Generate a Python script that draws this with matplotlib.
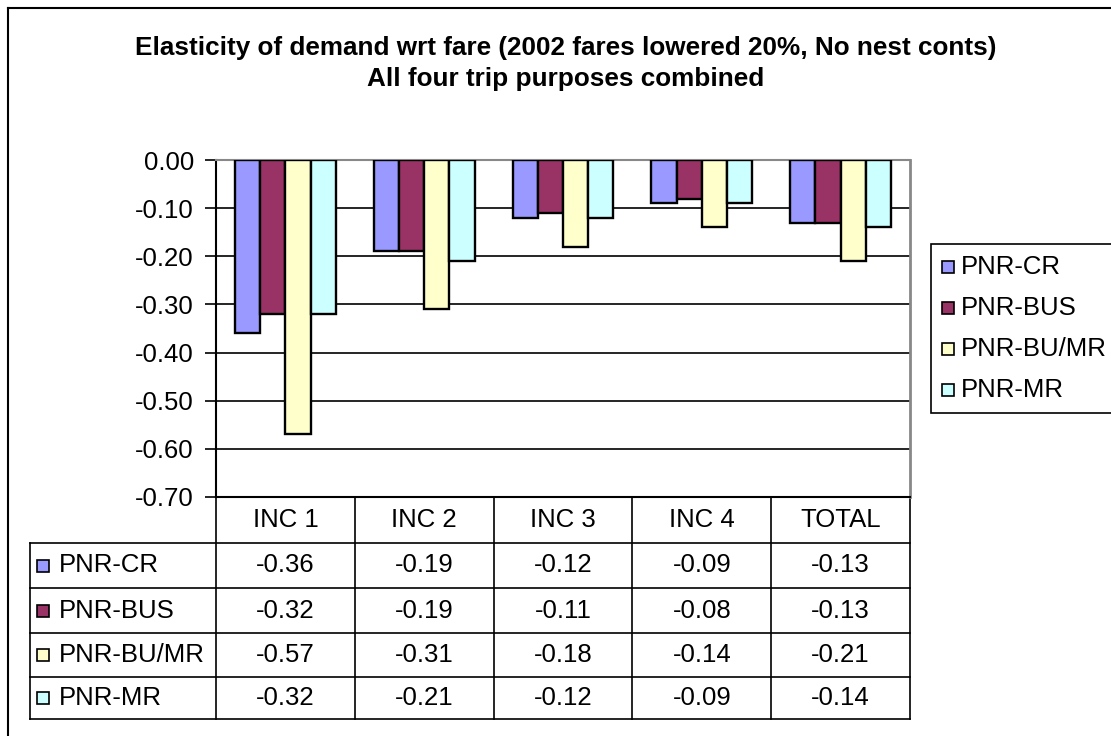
import numpy as np
import matplotlib
matplotlib.use("Agg")
import matplotlib.pyplot as plt
from matplotlib.patches import Rectangle

plt.rcParams['font.family'] = ['Liberation Sans', 'DejaVu Sans']

categories = ['INC 1', 'INC 2', 'INC 3', 'INC 4', 'TOTAL']
series = ['PNR-CR', 'PNR-BUS', 'PNR-BU/MR', 'PNR-MR']
pnr_cr = [-0.36, -0.19, -0.12, -0.09, -0.13]
pnr_bus = [-0.32, -0.19, -0.11, -0.08, -0.13]
pnr_bu_mr = [-0.57, -0.31, -0.18, -0.14, -0.21]
pnr_mr = [-0.32, -0.21, -0.12, -0.09, -0.14]
colors = ['#9999FF', '#993366', '#FFFFCC', '#CCFFFF']

title_1 = 'Elasticity of demand wrt fare (2002 fares lowered 20%, No nest conts)'
title_2 = 'All four trip purposes combined'

FS = 18.5
W, H = 1111, 736
fig = plt.figure(figsize=(W / 100, H / 100), dpi=100)

# pixel-space overlay for border, title, legend and data table
ov = fig.add_axes([0, 0, 1, 1])
ov.set_xlim(0, W)
ov.set_ylim(H, 0)
ov.axis('off')

# plot area in pixels
L, R, T, B = 216, 910, 160, 497
ax = fig.add_axes([L / W, 1 - B / H, (R - L) / W, (B - T) / H])
ax.set_zorder(2)

values = [pnr_cr, pnr_bus, pnr_bu_mr, pnr_mr]
n = len(categories)
x = np.arange(n)
bw = 1 / 5.5
for i, (vals, c) in enumerate(zip(values, colors)):
    ax.bar(x + (i - 1.5) * bw, vals, bw, color=c, edgecolor='black',
           linewidth=1.7, zorder=3)

ticks = np.round(np.arange(-0.7, 0.001, 0.1), 2)
ax.set_xlim(-0.5, n - 0.5)
ax.set_ylim(-0.70, 0.0)
ax.set_yticks(ticks)
ax.set_yticklabels([f'{abs(v):.2f}' if v == 0 else f'{v:.2f}' for v in ticks])
ax.yaxis.grid(True, color='black', linewidth=1.2, zorder=0)
ax.set_xticks([])
ax.tick_params(axis='y', length=8, width=1.2, labelsize=FS, pad=8)
for s in ['left', 'bottom']:
    ax.spines[s].set_linewidth(1.5)
ax.spines['top'].set_color('#888888')
ax.spines['right'].set_color('#888888')
ax.spines['top'].set_linewidth(1.5)
ax.spines['right'].set_linewidth(2)

# outer chart border
ov.plot([8, 8], [H + 5, 8], color='black', lw=1.5)
ov.plot([8, W + 5], [8, 8], color='black', lw=1.5)

ov.text(566, 48, title_1, ha='center', va='center', fontsize=18.8,
        fontweight='bold')
ov.text(566, 79, title_2, ha='center', va='center', fontsize=18.8,
        fontweight='bold')

# legend
ov.add_patch(Rectangle((931, 244), 200, 169, facecolor='white',
                       edgecolor='black', lw=1.2))
for i, (name, c) in enumerate(zip(series, colors)):
    yc = 267 + i * 41
    ov.add_patch(Rectangle((942, yc - 6), 12, 12, facecolor=c,
                           edgecolor='black', lw=1.2))
    ov.text(961, yc, name, ha='left', va='center', fontsize=FS)

# data table under the axis
col_w = (R - L) / n
row_top = [B, 543, 588, 633, 677, 719]
tl = 30
ov.plot([L, R], [B, B], color='black', lw=1.2)
for k in range(n + 1):
    ov.plot([L + k * col_w] * 2, [B, row_top[-1]], color='black', lw=1.2)
for y in row_top[1:]:
    ov.plot([tl, R], [y, y], color='black', lw=1.2)
ov.plot([tl, tl], [row_top[1], row_top[-1]], color='black', lw=1.2)
for k, cat in enumerate(categories):
    ov.text(L + (k + 0.5) * col_w, (row_top[0] + row_top[1]) / 2, cat,
            ha='center', va='center', fontsize=FS)
for i, (name, vals, c) in enumerate(zip(series, values, colors)):
    yc = (row_top[i + 1] + row_top[i + 2]) / 2
    ov.add_patch(Rectangle((37, yc - 6), 12, 12, facecolor=c,
                           edgecolor='black', lw=1.2))
    ov.text(59, yc, name, ha='left', va='center', fontsize=FS)
    for k, v in enumerate(vals):
        ov.text(L + (k + 0.5) * col_w, yc, f'{v:.2f}', ha='center',
                va='center', fontsize=FS)

fig.savefig('out.png', dpi=100)
